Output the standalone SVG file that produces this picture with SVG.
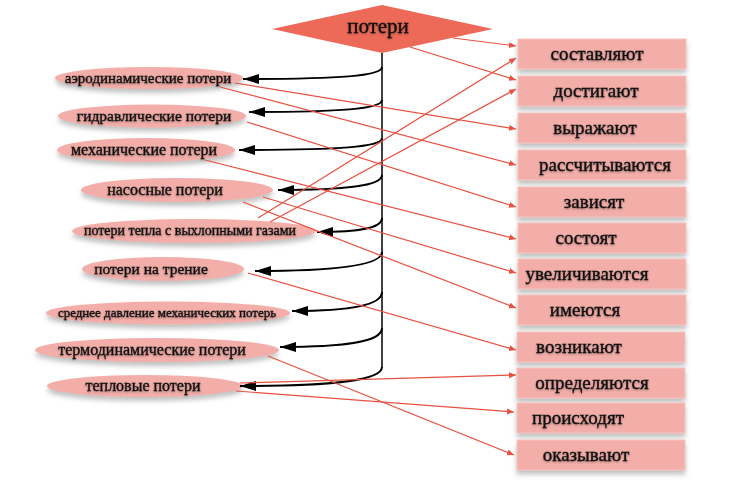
<svg xmlns="http://www.w3.org/2000/svg" width="730" height="486" viewBox="0 0 730 486">
<defs>
<style>
.box{fill:#F3AEA9;stroke:#F6C4C0;stroke-width:1;filter:url(#sh)}
.ell{fill:#F3AEA9;filter:url(#sh)}
.t{font-family:"Liberation Serif","Times New Roman",serif;fill:#111;stroke:#111;stroke-width:0.35;text-anchor:middle;filter:url(#ts)}
.bt{font-size:19px}
.blk{fill:none;stroke:#000;stroke-width:2;marker-end:url(#ab)}
.red{fill:none;stroke:#E8503F;stroke-width:1.2;marker-end:url(#ar)}
</style>
<filter id="sh" x="-20%" y="-40%" width="140%" height="200%">
<feDropShadow dx="0" dy="4" stdDeviation="2.5" flood-color="#777" flood-opacity="0.45"/>
</filter>
<filter id="ts" x="-10%" y="-30%" width="120%" height="160%">
<feDropShadow dx="0" dy="1" stdDeviation="0.8" flood-color="#000" flood-opacity="0.35"/>
</filter>
<marker id="ab" markerUnits="userSpaceOnUse" markerWidth="18" markerHeight="12" refX="16" refY="5" orient="auto">
<path d="M0,0 L16,5 L0,10 Z" fill="#000"/>
</marker>
<marker id="ar" markerUnits="userSpaceOnUse" markerWidth="9" markerHeight="8" refX="7" refY="3" orient="auto">
<path d="M0,0 L7,3 L0,6 Z" fill="#E8503F"/>
</marker>
</defs>
<rect width="730" height="486" fill="#fff"/>

<g id="center">
<polygon points="272,29 382,5 493,29 382,53" fill="#EE6A58"/>
<text class="t" x="378" y="33" font-size="21">потери</text>
</g>

<g id="ellipses">
<g id="n-aero"><ellipse class="ell" cx="149" cy="78" rx="94" ry="11"/><text class="t" x="148" y="83" font-size="15">аэродинамические потери</text></g>
<g id="n-gidr"><ellipse class="ell" cx="152" cy="116" rx="94" ry="11.5"/><text class="t" x="154" y="121" font-size="15.5">гидравлические потери</text></g>
<g id="n-meh"><ellipse class="ell" cx="146" cy="150" rx="89" ry="12"/><text class="t" x="144" y="155" font-size="16">механические потери</text></g>
<g id="n-nas"><ellipse class="ell" cx="177" cy="190" rx="96" ry="12"/><text class="t" x="165" y="195" font-size="16">насосные потери</text></g>
<g id="n-tepla"><ellipse class="ell" cx="194" cy="231" rx="122" ry="12"/><text class="t" x="190" y="235" font-size="14">потери тепла с выхлопными газами</text></g>
<g id="n-tren"><ellipse class="ell" cx="163" cy="269" rx="81" ry="12"/><text class="t" x="151" y="274" font-size="15.5">потери на трение</text></g>
<g id="n-sred"><ellipse class="ell" cx="168" cy="313" rx="122" ry="11.5"/><text class="t" x="167" y="317" font-size="13">среднее давление механических потерь</text></g>
<g id="n-termo"><ellipse class="ell" cx="157" cy="350" rx="122" ry="12"/><text class="t" x="152" y="355" font-size="16">термодинамические потери</text></g>
<g id="n-tepl"><ellipse class="ell" cx="145" cy="386" rx="98" ry="11"/><text class="t" x="143" y="391" font-size="16">тепловые потери</text></g>
</g>

<g id="boxes">
<g id="b1"><rect class="box" x="518" y="39" width="168" height="30"/><text class="t bt" x="597" y="60">составляют</text></g>
<g id="b2"><rect class="box" x="518" y="76" width="168" height="30"/><text class="t bt" x="596" y="97">достигают</text></g>
<g id="b3"><rect class="box" x="518" y="113" width="168" height="30"/><text class="t bt" x="595" y="134">выражают</text></g>
<g id="b4"><rect class="box" x="518" y="150" width="168" height="30"/><text class="t bt" x="605" y="171">рассчитываются</text></g>
<g id="b5"><rect class="box" x="518" y="187" width="168" height="30"/><text class="t bt" x="594" y="208">зависят</text></g>
<g id="b6"><rect class="box" x="518" y="223" width="168" height="30"/><text class="t bt" x="586" y="244">состоят</text></g>
<g id="b7"><rect class="box" x="518" y="259" width="168" height="30"/><text class="t bt" x="587" y="280">увеличиваются</text></g>
<g id="b8"><rect class="box" x="518" y="295" width="168" height="30"/><text class="t bt" x="585" y="316">имеются</text></g>
<g id="b9"><rect class="box" x="517" y="332" width="168" height="30"/><text class="t bt" x="579" y="353">возникают</text></g>
<g id="b10"><rect class="box" x="517" y="368" width="168" height="30"/><text class="t bt" x="592" y="389">определяются</text></g>
<g id="b11"><rect class="box" x="517" y="403" width="168" height="30"/><text class="t bt" x="578" y="424">происходят</text></g>
<g id="b12"><rect class="box" x="517" y="440" width="168" height="30"/><text class="t bt" x="586" y="461">оказывают</text></g>
</g>

<g id="connectors">
<line x1="382" y1="53" x2="382" y2="367" stroke="#000" stroke-width="1.5"/>
<path class="blk" d="M382,67 C382,76 340,79 243,79"/>
<path class="blk" d="M382,100 C382,109 340,112 249,112"/>
<path class="blk" d="M382,138 C382,147 340,150 239,150"/>
<path class="blk" d="M382,175 C382,186 345,190 278,190"/>
<path class="blk" d="M382,218 C382,228 360,232 317,232"/>
<path class="blk" d="M382,252 C382,266 330,271 255,271"/>
<path class="blk" d="M382,292 C382,306 345,311 292,311"/>
<path class="blk" d="M382,328 C382,343 340,347 280,347"/>
<path class="blk" d="M382,367 C382,381 330,386 240,386"/>

<line class="red" x1="453" y1="38" x2="516" y2="46"/>
<line class="red" x1="410" y1="47" x2="516" y2="80"/>
<line class="red" x1="258" y1="218" x2="516" y2="58"/>
<line class="red" x1="270" y1="222" x2="516" y2="89"/>
<line class="red" x1="235" y1="83" x2="516" y2="129"/>
<line class="red" x1="220" y1="87" x2="516" y2="165"/>
<line class="red" x1="247" y1="122" x2="516" y2="207"/>
<line class="red" x1="205" y1="160" x2="516" y2="239"/>
<line class="red" x1="263" y1="197" x2="516" y2="273"/>
<line class="red" x1="243" y1="202" x2="516" y2="308"/>
<line class="red" x1="248" y1="273" x2="516" y2="350"/>
<line class="red" x1="240" y1="383" x2="516" y2="375"/>
<line class="red" x1="236" y1="391" x2="514" y2="412"/>
<line class="red" x1="268" y1="356" x2="514" y2="455"/>
</g>
</svg>
